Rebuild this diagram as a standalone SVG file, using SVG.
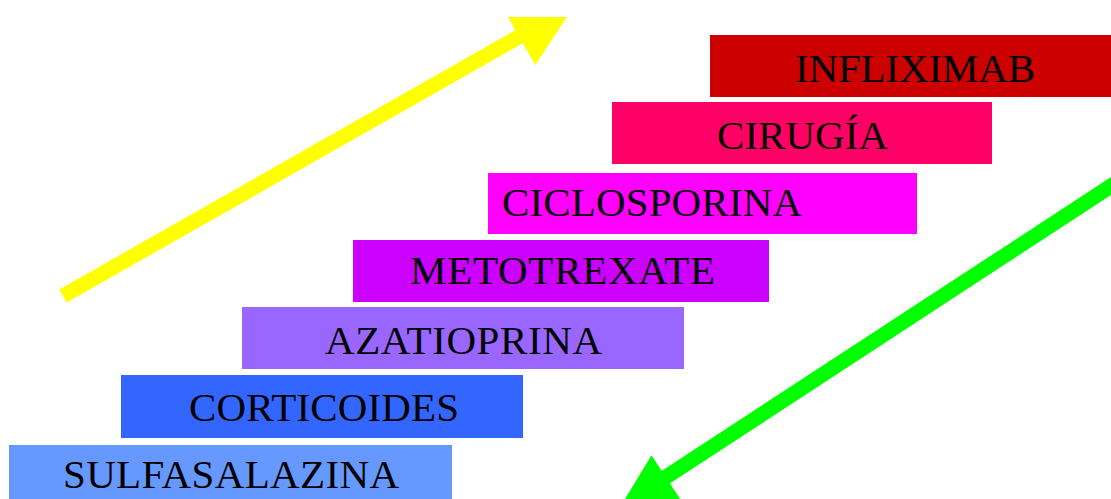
<svg xmlns="http://www.w3.org/2000/svg" width="1111" height="499" viewBox="0 0 1111 499">
<defs>
<style>
.lbl{font-family:"Liberation Serif","Times New Roman",serif;font-size:41px;fill:#000;}
</style>
<clipPath id="clipTop"><rect x="0" y="17" width="1111" height="482"/></clipPath>
</defs>
<rect x="0" y="0" width="1111" height="499" fill="#fff"/>
<g id="n-infliximab"><rect x="710" y="35" width="401" height="62" fill="#CC0000"/><text class="lbl" x="795" y="82" textLength="240" lengthAdjust="spacing">INFLIXIMAB</text></g>
<g id="n-cirugia"><rect x="612" y="102" width="380" height="62" fill="#FF0066"/><text class="lbl" x="717" y="149" textLength="171" lengthAdjust="spacing">CIRUGÍA</text></g>
<g id="n-ciclosporina"><rect x="488" y="173" width="429" height="61" fill="#FF00FF"/><text class="lbl" x="502" y="216" textLength="300" lengthAdjust="spacing">CICLOSPORINA</text></g>
<g id="n-metotrexate"><rect x="353" y="240" width="416" height="62" fill="#CC00FF"/><text class="lbl" x="410" y="284" textLength="305" lengthAdjust="spacing">METOTREXATE</text></g>
<g id="n-azatioprina"><rect x="242" y="307" width="442" height="62" fill="#9966FF"/><text class="lbl" x="325" y="354" textLength="277" lengthAdjust="spacing">AZATIOPRINA</text></g>
<g id="n-corticoides"><rect x="121" y="375" width="402" height="63" fill="#3366FF"/><text class="lbl" x="189" y="421" textLength="270" lengthAdjust="spacing">CORTICOIDES</text></g>
<g id="n-sulfasalazina"><rect x="9" y="445" width="443" height="54" fill="#6699FF"/><text class="lbl" x="63" y="488" textLength="336" lengthAdjust="spacing">SULFASALAZINA</text></g>
<g id="connectors">
<g clip-path="url(#clipTop)">
<line x1="63" y1="296" x2="522" y2="35" stroke="#FFFF00" stroke-width="15"/>
<polygon points="535.2,64.9 575.3,4.4 502.8,8.1" fill="#FFFF00"/>
</g>
<line x1="1130" y1="173.6" x2="663" y2="479" stroke="#00FF00" stroke-width="15"/>
<polygon points="680.1,498.9 620.2,506.9 651.5,455.3" fill="#00FF00"/>
</g>
</svg>
